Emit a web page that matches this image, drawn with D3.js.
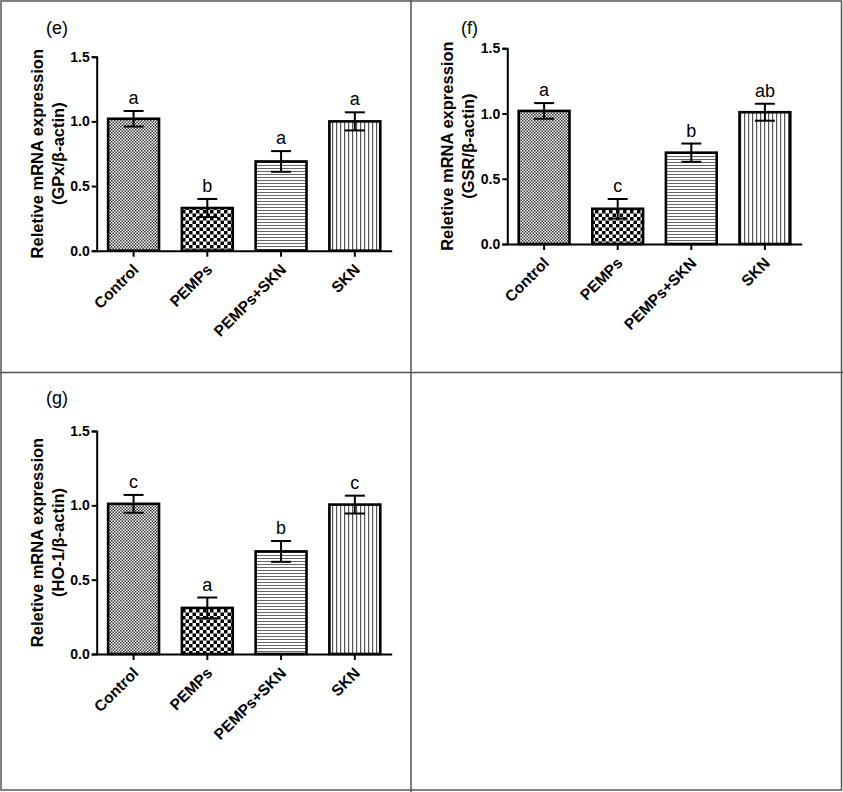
<!DOCTYPE html>
<html>
<head>
<meta charset="utf-8">
<script src="https://cdn.jsdelivr.net/npm/d3@7"></script>
<style>
  html, body { margin: 0; padding: 0; background: #fff; }
  svg { display: block; }
  text { font-family: "Liberation Sans", Arial, sans-serif; fill: #000; }
</style>
</head>
<body>
<svg id="chart" width="843" height="792"></svg>
<script>
// ---------- data ----------
const categories = ["Control", "PEMPs", "PEMPs+SKN", "SKN"];
const yTicks = [0, 0.5, 1.0, 1.5];

const gpxMean = [1.02, 0.33, 0.69, 1.00];
const gpxErr  = [0.06, 0.07, 0.08, 0.07];
const gpxLetters = ["a", "b", "a", "a"];

const gsrMean = [1.02, 0.27, 0.70, 1.01];
const gsrErr  = [0.06, 0.075, 0.07, 0.065];
const gsrLetters = ["a", "c", "b", "ab"];

const ho1Mean = [1.01, 0.31, 0.69, 1.005];
const ho1Err  = [0.06, 0.07, 0.07, 0.06];
const ho1Letters = ["c", "a", "b", "c"];

const panelLabels = ["(e)", "(f)", "(g)"];
const yTitles = ["(GPx/\u03b2-actin)", "(GSR/\u03b2-actin)", "(HO-1/\u03b2-actin)"];
const yTitleMain = "Reletive mRNA expression";

// ---------- layout ----------
const svg = d3.select("#chart");
const W = 843, H = 792;

const defs = svg.append("defs");
// fine checker (Control)
let p = defs.append("pattern").attr("id", "patFine").attr("patternUnits", "userSpaceOnUse")
  .attr("width", 3).attr("height", 3);
p.append("rect").attr("width", 3).attr("height", 3).attr("fill", "#fff");
p.append("rect").attr("x", 0).attr("y", 0).attr("width", 1.5).attr("height", 1.5).attr("fill", "#333");
p.append("rect").attr("x", 1.5).attr("y", 1.5).attr("width", 1.5).attr("height", 1.5).attr("fill", "#333");
// coarse checker (PEMPs)
p = defs.append("pattern").attr("id", "patCoarse").attr("patternUnits", "userSpaceOnUse")
  .attr("width", 7).attr("height", 7);
p.append("rect").attr("width", 7).attr("height", 7).attr("fill", "#fff");
p.append("rect").attr("x", 0).attr("y", 0).attr("width", 3.5).attr("height", 3.5).attr("fill", "#000");
p.append("rect").attr("x", 3.5).attr("y", 3.5).attr("width", 3.5).attr("height", 3.5).attr("fill", "#000");
// horizontal lines (PEMPs+SKN)
p = defs.append("pattern").attr("id", "patHoriz").attr("patternUnits", "userSpaceOnUse")
  .attr("width", 6).attr("height", 3);
p.append("rect").attr("width", 6).attr("height", 3).attr("fill", "#fff");
p.append("rect").attr("x", 0).attr("y", 0).attr("width", 6).attr("height", 1).attr("fill", "#666");
// vertical lines (SKN)
p = defs.append("pattern").attr("id", "patVert").attr("patternUnits", "userSpaceOnUse")
  .attr("width", 4).attr("height", 6);
p.append("rect").attr("width", 4).attr("height", 6).attr("fill", "#fff");
p.append("rect").attr("x", 0).attr("y", 0).attr("width", 1.2).attr("height", 6).attr("fill", "#555");

const fills = ["url(#patFine)", "url(#patCoarse)", "url(#patHoriz)", "url(#patVert)"];

// panel frames
svg.append("rect").attr("x", 1).attr("y", 1).attr("width", W - 2.5).attr("height", H - 3)
  .attr("fill", "none").attr("stroke", "#555").attr("stroke-width", 1.5);
svg.append("line").attr("x1", 411).attr("x2", 411).attr("y1", 0).attr("y2", H)
  .attr("stroke", "#555").attr("stroke-width", 1.5);
svg.append("line").attr("x1", 0).attr("x2", W).attr("y1", 372.5).attr("y2", 372.5)
  .attr("stroke", "#555").attr("stroke-width", 1.5);

const panels = [
  { mean: gpxMean, err: gpxErr, letters: gpxLetters, label: panelLabels[0], ytitle: yTitles[0],
    x0: 96.7, x1: 391.7, yBase: 250.7, yTop: 56.7, labelX: 46, labelY: 34 },
  { mean: gsrMean, err: gsrErr, letters: gsrLetters, label: panelLabels[1], ytitle: yTitles[1],
    x0: 507.3, x1: 801.7, yBase: 244, yTop: 48.3, labelX: 461, labelY: 34 },
  { mean: ho1Mean, err: ho1Err, letters: ho1Letters, label: panelLabels[2], ytitle: yTitles[2],
    x0: 96.7, x1: 391.7, yBase: 654, yTop: 431, labelX: 46, labelY: 404 }
];

panels.forEach(pn => {
  const g = svg.append("g");
  const x = d3.scaleBand().domain(categories).range([pn.x0, pn.x1]).paddingInner(0.31).paddingOuter(0.155);
  const y = d3.scaleLinear().domain([0, 1.5]).range([pn.yBase, pn.yTop]);

  g.selectAll("rect.bar").data(categories).enter().append("rect")
    .attr("class", "bar")
    .attr("x", d => x(d))
    .attr("width", x.bandwidth())
    .attr("y", (d, i) => y(pn.mean[i]))
    .attr("height", (d, i) => y(0) - y(pn.mean[i]))
    .attr("fill", (d, i) => fills[i])
    .attr("stroke", "#000").attr("stroke-width", 2.6);

  const capW = 10;
  categories.forEach((c, i) => {
    const cx = x(c) + x.bandwidth() / 2;
    const hi = y(pn.mean[i] + pn.err[i]);
    const lo = y(pn.mean[i] - pn.err[i]);
    g.append("line").attr("x1", cx).attr("x2", cx).attr("y1", hi).attr("y2", lo)
      .attr("stroke", "#000").attr("stroke-width", 2);
    g.append("line").attr("x1", cx - capW).attr("x2", cx + capW).attr("y1", hi).attr("y2", hi)
      .attr("stroke", "#000").attr("stroke-width", 2);
    g.append("line").attr("x1", cx - capW).attr("x2", cx + capW).attr("y1", lo).attr("y2", lo)
      .attr("stroke", "#000").attr("stroke-width", 2);
    g.append("text").attr("x", cx).attr("y", hi - 7)
      .attr("text-anchor", "middle").attr("font-size", 18)
      .text(pn.letters[i]);
  });

  const yAxis = g.append("g").attr("transform", `translate(${pn.x0},0)`)
    .call(d3.axisLeft(y).tickValues(yTicks).tickFormat(d3.format(".1f")).tickSize(5).tickPadding(2));
  yAxis.select(".domain").attr("stroke", "#000").attr("stroke-width", 2);
  yAxis.selectAll(".tick line").attr("stroke", "#000").attr("stroke-width", 2);
  yAxis.selectAll(".tick text").attr("font-size", 14).attr("font-weight", "bold")
    .attr("font-family", "Liberation Sans, Arial, sans-serif").attr("fill", "#000");

  const xAxis = g.append("g").attr("transform", `translate(0,${pn.yBase})`)
    .call(d3.axisBottom(x).tickSize(6).tickSizeOuter(0));
  xAxis.select(".domain").attr("stroke", "#000").attr("stroke-width", 2);
  xAxis.selectAll(".tick line").attr("stroke", "#000").attr("stroke-width", 2);
  xAxis.selectAll(".tick text")
    .attr("font-size", 15.5).attr("font-weight", "bold")
    .attr("font-family", "Liberation Sans, Arial, sans-serif").attr("fill", "#000")
    .attr("text-anchor", "end")
    .attr("x", 0).attr("y", 0).attr("dy", 0)
    .attr("transform", "translate(6,20) rotate(-45)");

  const cy = (pn.yBase + pn.yTop) / 2;
  g.append("text")
    .attr("transform", `translate(${pn.x0 - 54},${cy}) rotate(-90)`)
    .attr("text-anchor", "middle").attr("font-size", 16.5).attr("font-weight", "bold")
    .text(yTitleMain);
  g.append("text")
    .attr("transform", `translate(${pn.x0 - 33},${cy}) rotate(-90)`)
    .attr("text-anchor", "middle").attr("font-size", 16.5).attr("font-weight", "bold")
    .text(pn.ytitle);

  g.append("text").attr("x", pn.labelX).attr("y", pn.labelY)
    .attr("font-size", 18).text(pn.label);
});
</script>
</body>
</html>
